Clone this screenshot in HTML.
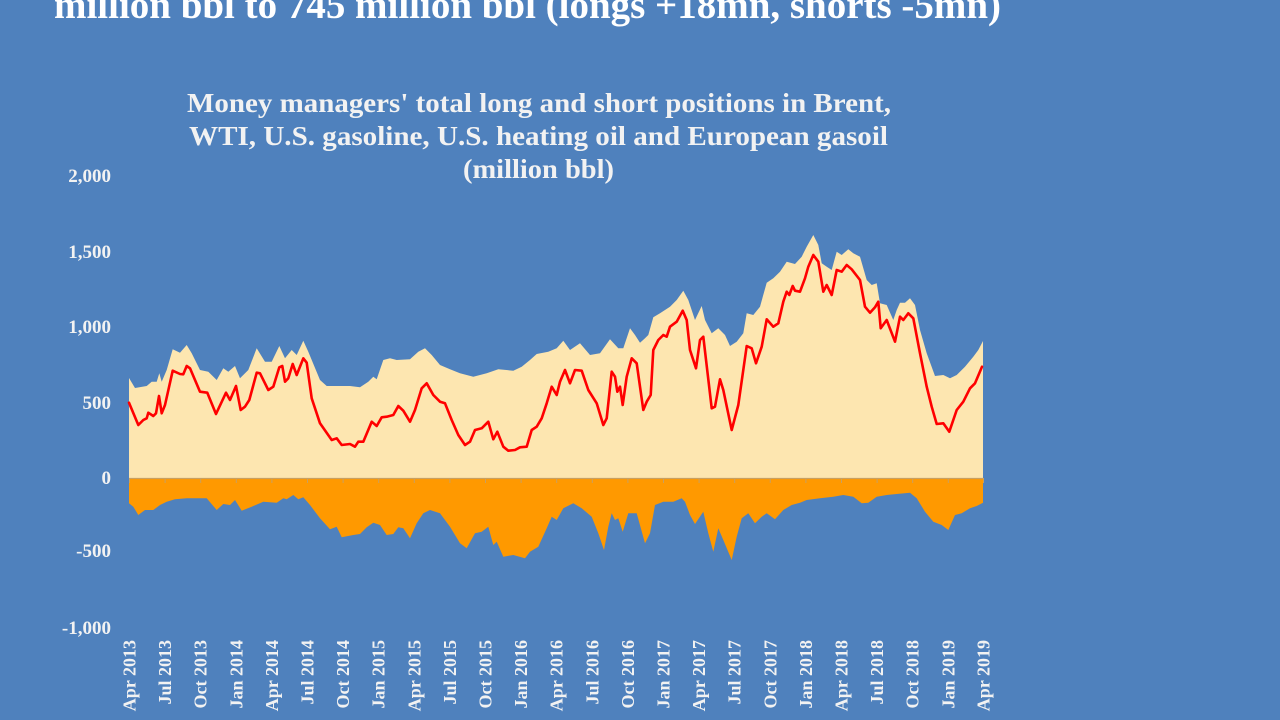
<!DOCTYPE html>
<html>
<head>
<meta charset="utf-8">
<style>
html,body{margin:0;padding:0;background:#4f81bd;}
svg{display:block;}
text{font-family:"Liberation Serif","Times New Roman",serif;font-weight:bold;}
</style>
</head>
<body>
<svg width="1280" height="720" viewBox="0 0 1280 720" xmlns="http://www.w3.org/2000/svg">
<rect x="0" y="0" width="1280" height="720" fill="#4f81bd"/>

<!-- cut-off slide title -->
<text x="54" y="18" font-size="39" fill="#ffffff" textLength="947" lengthAdjust="spacingAndGlyphs">million bbl to 745 million bbl (longs +18mn, shorts -5mn)</text>

<!-- chart title -->
<g fill="#f2f2f2" font-size="27" text-anchor="middle">
<text x="539" y="112" textLength="704" lengthAdjust="spacingAndGlyphs">Money managers' total long and short positions in Brent,</text>
<text x="538.5" y="145" textLength="699" lengthAdjust="spacingAndGlyphs">WTI, U.S. gasoline, U.S. heating oil and European gasoil</text>
<text x="538.5" y="178" textLength="151" lengthAdjust="spacingAndGlyphs">(million bbl)</text>
</g>

<!-- y axis labels -->
<g fill="#f2f2f2" font-size="19" text-anchor="end">
<text x="111" y="182">2,000</text>
<text x="111" y="258">1,500</text>
<text x="111" y="333">1,000</text>
<text x="111" y="409">500</text>
<text x="111" y="484">0</text>
<text x="111" y="557">-500</text>
<text x="111" y="634">-1,000</text>
</g>

<!-- longs (cream) -->
<path fill="#fde6b0" d="M129,478 L129,378 135,388 146.7,386 151.7,381.7 156.7,381.7 159.3,373.3 161.7,381.7 166.7,370 172.7,349.3 180,352.7 186.7,345 191.7,353.3 200,370 208.3,371.7 216.7,380 223.3,368.3 228.3,371.7 235,366 240,378.3 248.3,370 256.7,348.3 265,361.7 271.7,361.7 279.3,346 285,358.3 291.7,350 296.7,355 303.3,340.7 308.3,351.7 320,380 326.7,386 350,386 360,387.3 368.3,381.7 373.3,376.7 376.7,379.3 383.3,360 390,358.3 396.7,360 410,359.3 418.3,351.7 425,348.3 431.7,355 440,365 450,369.3 460,373.3 473.3,376.7 486.7,373.3 498.3,369.3 513.3,370.7 521.7,366.7 530,360 536.7,354 548.3,351.7 556.7,348.3 563.3,340.7 570,350 580,343.3 590,355 600,353.3 610,339.3 618.3,348.3 623.3,348.3 630,328.3 635,335 640,342.7 645,338.3 648.3,335 653.3,317.3 660,313.3 670,306.7 676.7,300 683.3,290.7 688.3,300 695,320 701.7,306 705,320 711.7,333.3 718.3,328.3 725,335 730,346 736.7,341.7 743.3,333.3 746.7,313.3 753.3,315 760,306.7 766.7,282.7 773.3,278.3 780,271.7 786.7,261.7 795,264 801.7,256.7 806.7,246.7 813.3,235 818.3,245 821.7,263.3 826.7,266.7 831.7,270 836.7,251.7 841.7,255 848.3,249.3 853.3,253.3 860,256.7 866.7,280 871.7,285 876.7,283.3 880,303.3 886.7,305 893.3,320 896.7,310 900,302.7 905,302.7 910,298.3 915,305 920,330 926.7,353.3 935,376 943.3,375 950,378.3 956.7,375 965,366.7 973.3,356.7 978.3,350 983,341 L983,478 Z"/>

<!-- shorts (orange) -->
<path fill="#ff9900" d="M129,478 L129,503.3 133.3,506.7 138.3,515 145,510 153.3,510 160,505 166.7,501.7 175,499.3 186.7,498.3 206.7,498.3 216.7,510 223.3,504 230,505 235,500 241.7,510.7 251.7,506.7 263.3,501.7 276.7,502.7 283.3,498.3 286.7,499.3 293.3,495 298.3,499.3 303.3,497.3 310,505 320,518.3 330,529.3 336.7,526.7 341.7,537.3 353.3,535 360,534 366.7,527.3 373.3,522.7 380,525 386.7,535 393.3,534 398.3,527.3 403.3,528.3 410,538.3 416.7,523.3 423.3,513.3 430,510 440,513.3 450,526.7 460,543.3 466.7,548.3 475,533.3 481.7,531.7 488.3,526.7 493.3,545 496.7,541.7 503.3,556.7 513.3,555 525,558.3 530,551.7 538.3,546.7 546.7,528.3 551.7,516.7 556.7,520 563.3,508.3 573.3,503.3 581.7,508.3 591.7,516.7 598.3,533.3 604,550 608.3,526.7 611.7,513.3 615,520 618.3,518.3 622.7,531.7 628.3,513.3 636.7,513.3 645,543.3 650,533.3 655,505 663.3,501.7 673.3,501.7 681.7,498.3 685,501.7 690,515 695,524 703.3,511.7 708.3,533.3 713.3,551.7 718.3,528.3 723.3,540 731.7,560 736.7,536.7 741.7,518.3 748.3,513.3 755,523.3 761.7,516.7 766.7,513.3 775,519.3 783.3,510 791.7,505 800,502.7 806.7,500 820,498.3 833.3,496.7 843.3,495 853.3,496.7 861.7,503.3 868.3,502.7 876.7,496.7 886.7,495 896.7,494 910,492.7 916.7,498.3 925,511.7 933.3,521.7 941.7,525 948.3,530 955,515 961.7,513.3 970,508.3 976.7,506 983,502.7 L983,478 Z"/>

<!-- zero axis + ticks -->
<line x1="129" y1="478.5" x2="983" y2="478.5" stroke="#c9a060" stroke-width="1.2"/>
<g stroke="#c9a060" stroke-width="1">
<path d="M129.5,478 v5 M165.1,478 v5 M200.7,478 v5 M236.3,478 v5 M271.9,478 v5 M307.5,478 v5 M343.1,478 v5 M378.7,478 v5 M414.3,478 v5 M449.9,478 v5 M485.5,478 v5 M521.1,478 v5 M556.7,478 v5 M592.3,478 v5 M627.9,478 v5 M663.5,478 v5 M699.1,478 v5 M734.7,478 v5 M770.3,478 v5 M805.9,478 v5 M841.5,478 v5 M877.1,478 v5 M912.7,478 v5 M948.3,478 v5 M983.5,478 v5"/>
</g>

<!-- net (red line) -->
<polyline fill="none" stroke="#ff0000" stroke-width="2.6" stroke-linejoin="round" stroke-linecap="round" points="129,402.7 138.3,425 143.3,420 146.7,418.3 148.3,412.7 153.3,416 156,413.3 159,396 161.7,413.3 165,405 172.7,370.7 180,374 183.3,374.3 186.7,366 190,368.3 200,391.7 207.3,392.7 216,414 226,392.7 230,400 236,386 240.7,410 245,406.7 249.3,400 256.7,372.7 260,373.3 268.3,390 273.3,386.7 279.3,367.3 282.3,366 285,381.7 288.3,378.3 292.7,364 296.7,375 303.3,358.3 306.7,362.7 311.7,398.3 320,423.3 331.7,440 336.7,438.3 341.7,445 350,444 355,446.7 358.3,441.7 363.3,441.7 371.7,421.7 376.7,426 381.7,417.3 386.7,416.7 393.3,415 398.3,406 403.3,410.7 410,421.7 415,410 421.7,388.3 426.7,383.3 433.3,395 440,401.7 445,403.3 451.7,420 458.3,435 465,445 470,441.7 475,430 481.7,428.3 488.3,421.7 493.3,439.3 497.3,431.7 503.3,446.7 508.3,450.7 515,450 520,447.3 526.7,446.7 531.7,430 536.7,426.7 541.7,418.3 546.7,403.3 551.7,386.7 556.7,395 560,381.7 565,370 570,383.3 575,370 581.7,370.7 588.3,390 596.7,403.3 603.3,425 606.7,418.3 611.7,371.7 615,376.7 617.3,391.7 620,386.7 622.7,405 626.7,376.7 631.7,358.3 636.7,363.3 643.3,410 646.7,401.7 650.7,395 653.3,350 658.3,340 663.3,335 666.7,336.7 670,326.7 676.7,321.7 682.7,310.7 686.7,320 690,350 696,368.3 700,340 703.3,336.7 711.7,408.3 715,406.7 720,379.3 723.3,390 731.7,430 738.3,405 746.7,346 751.7,348.3 756,363.3 761.7,346.7 766.7,319.3 773.3,326.7 778.3,323.3 783.3,301.7 786.7,291.7 789.3,295 792.7,286 795,290.7 800,291.7 805,278.3 808.3,266.7 813.3,255 818.3,261.7 823.3,291.7 826.7,285 831.7,295 836.7,270 841.7,271.7 846.7,265 851.7,269.3 860,280 865,306.7 870,312.7 875,307.3 878.3,301.7 880.7,328.3 886.7,320 895,341.7 900,316.7 903.3,320 908.3,313.3 913.3,318.3 920,353.3 926.7,386.7 931.7,406.7 936.7,424 943.3,423.3 949.3,431.7 956.7,410 963.3,401.7 970,388.3 975,383.3 982,366.7"/>

<!-- x axis labels (rotated) -->
<g fill="#f2f2f2" font-size="18" text-anchor="end">
<text transform="translate(135.5,640) rotate(-90)">Apr 2013</text>
<text transform="translate(171.1,640) rotate(-90)">Jul 2013</text>
<text transform="translate(206.7,640) rotate(-90)">Oct 2013</text>
<text transform="translate(242.3,640) rotate(-90)">Jan 2014</text>
<text transform="translate(277.9,640) rotate(-90)">Apr 2014</text>
<text transform="translate(313.5,640) rotate(-90)">Jul 2014</text>
<text transform="translate(349.1,640) rotate(-90)">Oct 2014</text>
<text transform="translate(384.7,640) rotate(-90)">Jan 2015</text>
<text transform="translate(420.3,640) rotate(-90)">Apr 2015</text>
<text transform="translate(455.9,640) rotate(-90)">Jul 2015</text>
<text transform="translate(491.5,640) rotate(-90)">Oct 2015</text>
<text transform="translate(527.1,640) rotate(-90)">Jan 2016</text>
<text transform="translate(562.7,640) rotate(-90)">Apr 2016</text>
<text transform="translate(598.3,640) rotate(-90)">Jul 2016</text>
<text transform="translate(633.9,640) rotate(-90)">Oct 2016</text>
<text transform="translate(669.5,640) rotate(-90)">Jan 2017</text>
<text transform="translate(705.1,640) rotate(-90)">Apr 2017</text>
<text transform="translate(740.7,640) rotate(-90)">Jul 2017</text>
<text transform="translate(776.3,640) rotate(-90)">Oct 2017</text>
<text transform="translate(811.9,640) rotate(-90)">Jan 2018</text>
<text transform="translate(847.5,640) rotate(-90)">Apr 2018</text>
<text transform="translate(883.1,640) rotate(-90)">Jul 2018</text>
<text transform="translate(918.7,640) rotate(-90)">Oct 2018</text>
<text transform="translate(954.3,640) rotate(-90)">Jan 2019</text>
<text transform="translate(989.5,640) rotate(-90)">Apr 2019</text>
</g>
</svg>
</body>
</html>
